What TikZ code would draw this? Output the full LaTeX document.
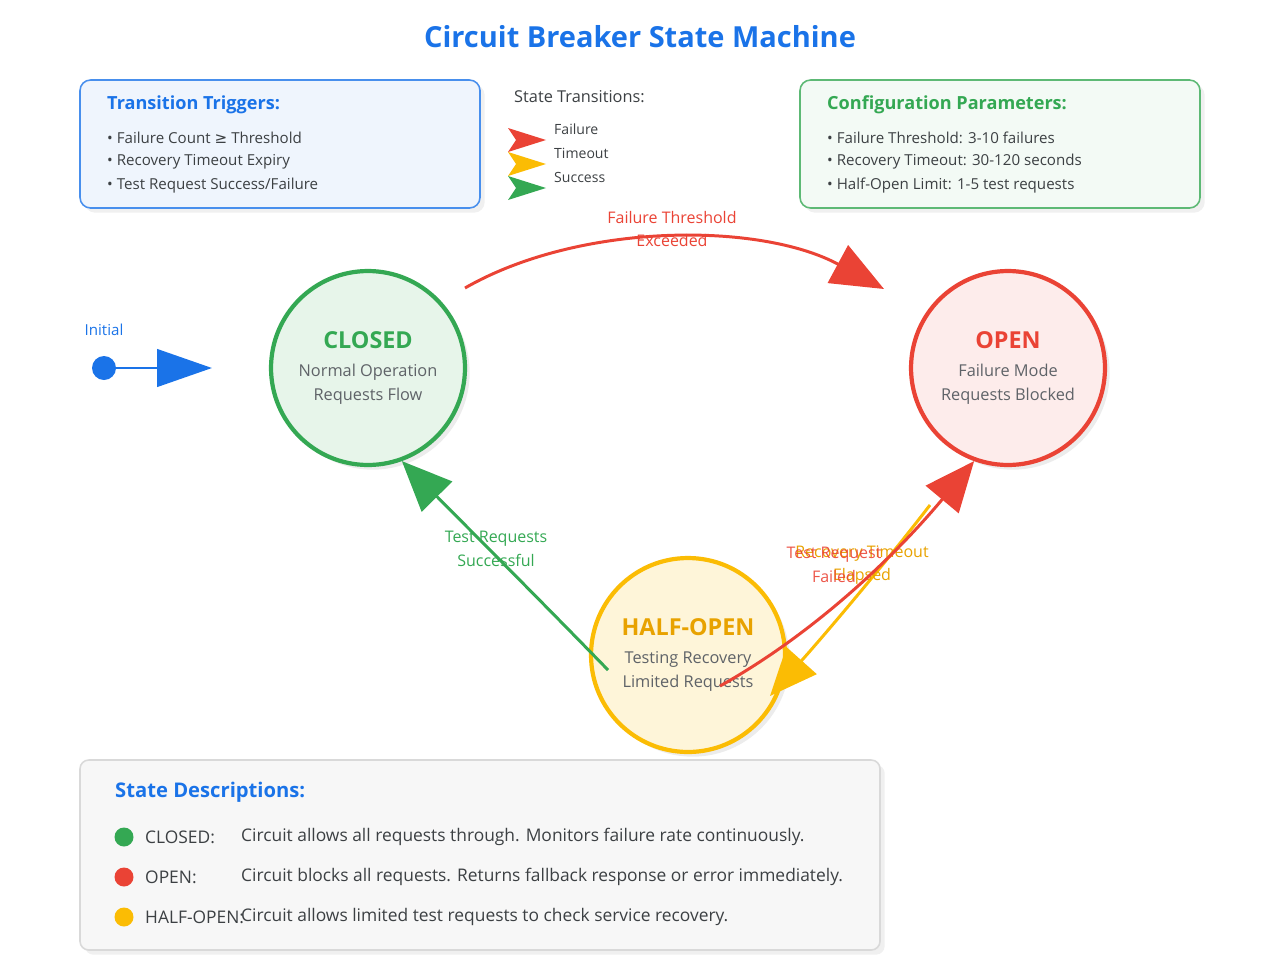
\documentclass[tikz,border=0pt]{standalone}
\usepackage{fontspec}
\setmainfont{Open Sans}
\newfontfamily\symfont{DejaVu Sans}
\usetikzlibrary{arrows.meta,shadows}
\definecolor{gblue}{HTML}{1A73E8}
\definecolor{ggreen}{HTML}{34A853}
\definecolor{gred}{HTML}{EA4335}
\definecolor{gyellow}{HTML}{FBBC04}
\definecolor{gorange}{HTML}{E8A200}
\definecolor{ggray}{HTML}{5F6368}
\definecolor{gdark}{HTML}{3C4043}
\tikzset{
  state/.style={circle, minimum size=3.88cm, line width=2.4pt, align=center, text=ggray, font=\fontsize{9.3}{13.8}\selectfont, drop shadow={opacity=0.15}},
  infobox/.style={rounded corners=6pt, line width=0.9pt, drop shadow={opacity=0.12}},
  boxtitle/.style={anchor=west, font=\bfseries\fontsize{10.3}{12}\selectfont},
  bullet/.style={anchor=west, text=gdark, font=\fontsize{8.6}{10}\selectfont},
  trans/.style={line width=1.7pt},
  translabel/.style={align=center, font=\fontsize{9.1}{13.5}\selectfont},
}
\begin{document}
\begin{tikzpicture}[x=0.02cm, y=-0.02cm]
    \useasboundingbox (0,0) rectangle (1280,960);

    % Title
    \node [text=gblue, font=\bfseries\fontsize{16.5}{20}\selectfont] (title) at (640,37) {Circuit Breaker State Machine};

    % Info boxes
    \draw [infobox, draw=gblue!80, fill=gblue!7] (80,80) rectangle (480,208);
    \node [boxtitle, text=gblue] (trigtitle) at (101,105) {Transition Triggers:};
    \node [bullet] (trig1) at (101,138) {• Failure Count {\symfont ≥} Threshold};
    \node [bullet] (trig2) at (101,162) {• Recovery Timeout Expiry};
    \node [bullet] (trig3) at (101,186) {• Test Request Success/Failure};

    \draw [infobox, draw=ggreen!80, fill=ggreen!6] (800,80) rectangle (1200,208);
    \node [boxtitle, text=ggreen] (conftitle) at (821,105) {Configuration Parameters:};
    \node [bullet] (conf1) at (821,138) {• Failure Threshold: 3-10 failures};
    \node [bullet] (conf2) at (821,162) {• Recovery Timeout: 30-120 seconds};
    \node [bullet] (conf3) at (821,186) {• Half-Open Limit: 1-5 test requests};

    % Legend
    \node [anchor=west, text=gdark, font=\fontsize{9.3}{11}\selectfont] (legtitle) at (508,97) {State Transitions:};
    \foreach \col/\txt [count=\i] in {gred/Failure, gyellow/Timeout, ggreen/Success} {
        \fill [\col] (508,104+24*\i) -- (546,116+24*\i) -- (508,128+24*\i) -- (516,116+24*\i) -- cycle;
        \node [anchor=west, text=gdark, font=\fontsize{8}{10}\selectfont] (leg\i) at (548,105+24*\i) {\txt};
    }

    % States
    \node [state, draw=ggreen, fill=ggreen!12] (closed) at (368,368) {{\bfseries\fontsize{13.3}{16}\selectfont\color{ggreen}CLOSED}\\[2pt]Normal Operation\\Requests Flow};
    \node [state, draw=gred, fill=gred!10] (open) at (1008,368) {{\bfseries\fontsize{13.3}{16}\selectfont\color{gred}OPEN}\\[2pt]Failure Mode\\Requests Blocked};
    \node [state, draw=gyellow, fill=gyellow!15] (halfopen) at (688,655) {{\bfseries\fontsize{13.3}{16}\selectfont\color{gorange}HALF-OPEN}\\[2pt]Testing Recovery\\Limited Requests};

    % Initial
    \fill [gblue] (104,368) circle (12) coordinate (initdot);
    \coordinate (inittip) at (212,368);
    \draw [trans, gblue, -{Triangle[length=1.1cm, width=0.75cm]}] (initdot) -- (inittip);
    \node [text=gblue, font=\fontsize{8.6}{10}\selectfont] (initlabel) at (104,330) {Initial};

    % Transitions
    \coordinate (c2o_start) at (465,288);
    \coordinate (c2o_end) at (884,289);
    \draw [trans, gred, -{Triangle[length=1.05cm, width=0.85cm]}] (c2o_start) .. controls (580,222) and (760,222) .. (c2o_end);
    \node [translabel, text=gred] (c2o_label) at (672,229) {Failure Threshold\\Exceeded};

    \coordinate (h2c_start) at (608,670);
    \draw [trans, ggreen, -{Triangle[length=1.0cm, width=0.85cm]}] (h2c_start) .. controls (540,600) and (470,530) .. (closed.-70);
    \node [translabel, text=ggreen] (h2c_label) at (496,549) {Test Requests\\Successful};

    \coordinate (o2h_start) at (930,505);
    \coordinate (o2h_end) at (770,696);
    \draw [trans, gyellow, -{Triangle[length=0.95cm, width=0.8cm]}] (o2h_start) .. controls (880,570) and (820,640) .. (o2h_end);
    \node [translabel, text=gorange] (o2h_label) at (862,565) {Recovery Timeout\\Elapsed};

    \coordinate (h2o_start) at (720,686);
    \draw [trans, gred, -{Triangle[length=1.0cm, width=0.85cm]}] (h2o_start) .. controls (820,630) and (900,550) .. (open.-110);
    \node [translabel, text=gred, opacity=0.9] (h2o_label) at (834,565) {Test Request\\Failed};

    % State descriptions
    \draw [infobox, draw=gray!30, fill=gray!6, rounded corners=5pt] (80,760) rectangle (880,950);
    \node [boxtitle, text=gblue, font=\bfseries\fontsize{11.5}{13}\selectfont] (desctitle) at (109,792) {State Descriptions:};
    \foreach \col/\st/\txt [count=\i] in {ggreen/CLOSED:/Circuit allows all requests through. Monitors failure rate continuously., gred/OPEN:/Circuit blocks all requests. Returns fallback response or error immediately., gyellow/HALF-OPEN:/Circuit allows limited test requests to check service recovery.} {
        \fill [\col] (124,797+40*\i) circle (9.5);
        \node [anchor=west, text=gdark, font=\fontsize{9.9}{11}\selectfont] (descname\i) at (139,797+40*\i) {\st};
        \node [anchor=west, text=gdark, font=\fontsize{9.9}{11}\selectfont] (desctext\i) at (235,797+40*\i) {\txt};
    }
\end{tikzpicture}
\end{document}
